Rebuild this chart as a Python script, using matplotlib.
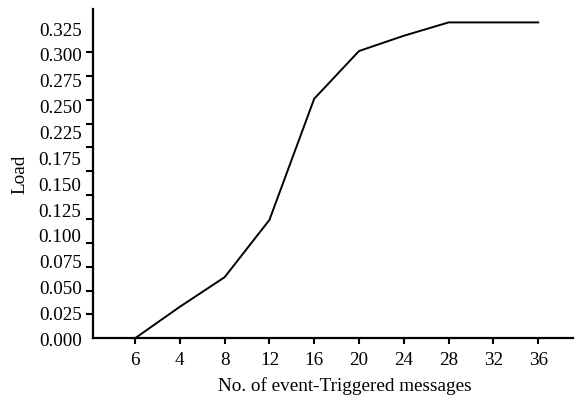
import matplotlib
matplotlib.use("Agg")
import matplotlib.pyplot as plt
import numpy as np

# данные
x_labels = ['6', '4', '8', '12', '16', '20', '24', '28', '32', '36']
load = [0.000, 0.033, 0.064, 0.124, 0.251, 0.301, 0.317, 0.331, 0.331, 0.331]
y_tick_values = np.arange(0, 0.3251, 0.025)
y_labels = ['0.000', '0.025', '0.050', '0.075', '0.100', '0.125', '0.150',
            '0.175', '0.225', '0.250', '0.275', '0.300', '0.325']

plt.rcParams['font.family'] = ['Liberation Serif', 'DejaVu Serif']
plt.rcParams['font.size'] = 13.8

fig = plt.figure(figsize=(5.76, 4.02), dpi=100)
ax = fig.add_axes([0.161, 0.156, 0.834, 0.819])

pos = np.arange(1, len(x_labels) + 1)
ax.plot(pos, load, color='black', linewidth=1.4)

ax.set_xlim(0.056, 10.78)
ax.set_ylim(0, 0.345)

ax.set_xticks(pos)
ax.set_xticklabels(x_labels)

# метки подписей стоят равномерно, а штрихи по шагу 0.025 (как в оригинале)
ax.set_yticks(np.linspace(0, 0.325, len(y_labels)))
ax.set_yticklabels(y_labels)
ax.set_yticks(y_tick_values, minor=True)
ax.tick_params(axis='y', which='major', length=0, pad=8)
ax.tick_params(axis='y', which='minor', length=5, width=1.5, direction='out')
ax.tick_params(axis='x', length=4, width=1.5, direction='out', pad=5)

for side in ['top', 'right']:
    ax.spines[side].set_visible(False)
for side in ['left', 'bottom']:
    ax.spines[side].set_linewidth(1.6)

ax.set_xlabel('No. of event-Triggered messages', va='center')
ax.xaxis.set_label_coords(0.525, -0.142)
ax.set_ylabel('Load', va='center')
ax.yaxis.set_label_coords(-0.152, 0.5)

fig.savefig('out.png', dpi=100)
